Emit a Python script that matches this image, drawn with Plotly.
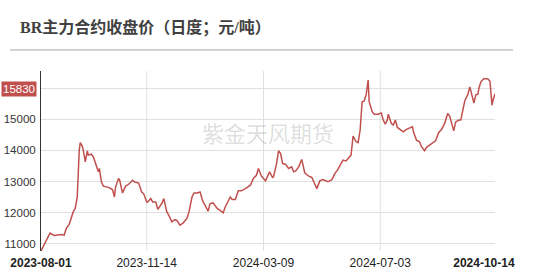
import plotly.graph_objects as go

title_text = "BR主力合约收盘价（日度；元/吨）"
watermark = "紫金天风期货"
last_label = "15830"

dates = [
    "2023-08-01", "2023-08-10", "2023-08-14", "2023-08-16", "2023-08-21", "2023-08-24",
    "2023-08-26", "2023-08-29", "2023-09-02", "2023-09-04", "2023-09-06", "2023-09-08",
    "2023-09-09", "2023-09-11", "2023-09-12", "2023-09-14", "2023-09-16", "2023-09-17",
    "2023-09-20", "2023-09-22", "2023-09-25", "2023-09-27", "2023-09-28", "2023-09-30",
    "2023-10-02", "2023-10-07", "2023-10-11", "2023-10-13", "2023-10-14", "2023-10-17",
    "2023-10-18", "2023-10-21", "2023-10-24", "2023-10-27", "2023-10-31", "2023-11-02",
    "2023-11-06", "2023-11-09", "2023-11-11", "2023-11-14", "2023-11-15", "2023-11-18",
    "2023-11-20", "2023-11-23", "2023-11-25", "2023-11-29", "2023-12-01", "2023-12-04",
    "2023-12-06", "2023-12-09", "2023-12-12", "2023-12-14", "2023-12-17", "2023-12-20",
    "2023-12-24", "2023-12-26", "2023-12-29", "2023-12-31", "2024-01-03", "2024-01-06",
    "2024-01-09", "2024-01-11", "2024-01-14", "2024-01-16", "2024-01-19", "2024-01-22",
    "2024-01-23", "2024-01-26", "2024-01-29", "2024-01-31", "2024-02-03", "2024-02-05",
    "2024-02-07", "2024-02-10", "2024-02-13", "2024-02-16", "2024-02-20", "2024-02-25",
    "2024-02-28", "2024-03-02", "2024-03-04", "2024-03-07", "2024-03-11", "2024-03-15",
    "2024-03-18", "2024-03-19", "2024-03-22", "2024-03-24", "2024-03-26", "2024-03-28",
    "2024-03-31", "2024-04-03", "2024-04-06", "2024-04-08", "2024-04-10", "2024-04-13",
    "2024-04-16", "2024-04-19", "2024-04-23", "2024-04-26", "2024-04-28", "2024-05-01",
    "2024-05-04", "2024-05-07", "2024-05-12", "2024-05-16", "2024-05-19", "2024-05-22",
    "2024-05-24", "2024-05-27", "2024-05-30", "2024-06-01", "2024-06-04", "2024-06-06",
    "2024-06-09", "2024-06-11", "2024-06-13", "2024-06-15", "2024-06-17", "2024-06-19",
    "2024-06-21", "2024-06-22", "2024-06-25", "2024-06-27", "2024-07-01", "2024-07-04",
    "2024-07-06", "2024-07-08", "2024-07-10", "2024-07-11", "2024-07-14", "2024-07-16",
    "2024-07-18", "2024-07-20", "2024-07-23", "2024-07-26", "2024-07-29", "2024-08-04",
    "2024-08-05", "2024-08-08", "2024-08-11", "2024-08-13", "2024-08-16", "2024-08-18",
    "2024-08-21", "2024-08-25", "2024-08-27", "2024-08-30", "2024-09-02", "2024-09-05",
    "2024-09-08", "2024-09-10", "2024-09-12", "2024-09-14", "2024-09-16", "2024-09-19",
    "2024-09-21", "2024-09-23", "2024-09-25", "2024-09-28", "2024-09-30", "2024-10-02",
    "2024-10-04", "2024-10-06", "2024-10-08", "2024-10-09", "2024-10-11", "2024-10-14",
    "2024-10-18", "2024-10-20", "2024-10-22", "2024-10-23", "2024-10-25",
]

prices = [
    10760, 11340, 11260, 11270, 11290, 11270,
    11480, 11620, 12020, 12130, 12500, 14010,
    14250, 14140, 14010, 13630, 13990, 13850,
    13880, 13790, 13470, 13310, 13420, 12990,
    12850, 12810, 12740, 12500, 12810, 13100,
    13060, 12630, 12850, 12910, 13040, 12980,
    12950, 12660, 12610, 12340, 12340, 12450,
    12340, 12340, 12100, 12290, 12450, 12020,
    11910, 11700, 11770, 11750, 11590, 11660,
    11810, 12020, 12500, 12630, 12630, 12660,
    12340, 12240, 12040, 12290, 12310, 12160,
    12130, 12070, 11990, 12180, 12400, 12500,
    12420, 12420, 12700, 12700, 12770, 12880,
    13100, 13200, 13420, 13170, 13020, 13310,
    13130, 13150, 13580, 13990, 13900, 13580,
    13550, 13420, 13470, 13310, 13340, 13470,
    13710, 13280, 13170, 13130, 12990, 12770,
    13020, 13060, 12990, 13060, 13260, 13390,
    13520, 13690, 13660, 13740, 13850, 14460,
    14280, 14250, 14650, 15570, 15590, 15790,
    16270, 15570, 15250, 15170, 15170, 15210,
    14980, 14850, 14980, 15170, 14870, 14820,
    14980, 14740, 14680, 14600, 14680, 14760,
    14600, 14330, 14280, 14120, 13990, 14100,
    14170, 14250, 14310, 14570, 14680, 14870,
    15190, 15110, 14870, 14630, 14920, 14980,
    14980, 15320, 15600, 15800, 16050, 15790,
    15530, 15790, 15810, 16000, 16210, 16320,
    16300, 16230, 15460, 15620, 15830,
]

x_tick_vals = ["2023-08-01", "2023-11-14", "2024-03-09", "2024-07-03", "2024-10-14"]
x_tick_text = ["<b>2023-08-01</b>", "2023-11-14", "2024-03-09", "2024-07-03", "<b>2024-10-14</b>"]
x_grid_dates = ["2023-11-14", "2024-03-09", "2024-07-03"]
y_tick_vals = [11000, 12000, 13000, 14000, 15000, 16000]
y_tick_text = ["11000", "12000", "13000", "14000", "15000", "16000"]

line_color = "#c0504d"
font_family = "Liberation Sans, Arial, sans-serif"

fig = go.Figure()
fig.add_trace(go.Scatter(
    x=dates, y=prices, mode="lines",
    line=dict(color=line_color, width=1.5),
    hoverinfo="skip", showlegend=False,
))

for d in x_grid_dates:
    fig.add_shape(type="line", xref="x", yref="paper", x0=d, x1=d, y0=0, y1=1,
                  line=dict(color="#e0e0e0", width=1), layer="below")

fig.update_layout(
    width=535, height=280,
    margin=dict(l=41, r=40, t=71, b=29),
    paper_bgcolor="white", plot_bgcolor="white",
    font=dict(family=font_family, size=12, color="#333333"),
    xaxis=dict(
        type="date", automargin=False,
        range=[dates[0], dates[-1]],
        tickmode="array", tickvals=x_tick_vals, ticktext=x_tick_text,
        showgrid=False, showline=False, zeroline=False,
        ticks="", ticklabelstandoff=3,
        tickfont=dict(size=12, color="#222222"),
    ),
    yaxis=dict(
        automargin=False,
        range=[10760, 16560],
        tickmode="array", tickvals=y_tick_vals, ticktext=y_tick_text,
        showgrid=True, gridcolor="#e0e0e0", gridwidth=1,
        showline=True, linecolor="#333333", linewidth=1,
        zeroline=False, ticks="", ticklabelstandoff=2,
        tickfont=dict(size=11.5, color="#333333"),
    ),
)

fig.add_annotation(
    text="<b>" + title_text + "</b>",
    xref="paper", yref="paper", x=0, y=1,
    xanchor="left", yanchor="middle", xshift=-23, yshift=44,
    showarrow=False,
    font=dict(family="Liberation Serif, Noto Sans CJK SC, serif", size=16, color="#404040"),
)
fig.add_shape(type="line", xref="paper", yref="paper", x0=-0.068, x1=1.04, y0=1.117, y1=1.117,
              line=dict(color="#a6a6a6", width=1))

fig.add_annotation(
    text=watermark, xref="paper", yref="paper", x=0.5, y=0.66,
    showarrow=False,
    font=dict(family="Noto Sans CJK SC, sans-serif", size=22, color="rgba(0,0,0,0.15)"),
)

fig.add_annotation(
    text=last_label, xref="paper", yref="y", x=0, y=prices[-1],
    xanchor="right", yanchor="middle", xshift=-4, yshift=5,
    showarrow=False, bgcolor=line_color, borderpad=1,
    font=dict(family=font_family, size=11.5, color="white"),
)

fig.write_html("out.html")
